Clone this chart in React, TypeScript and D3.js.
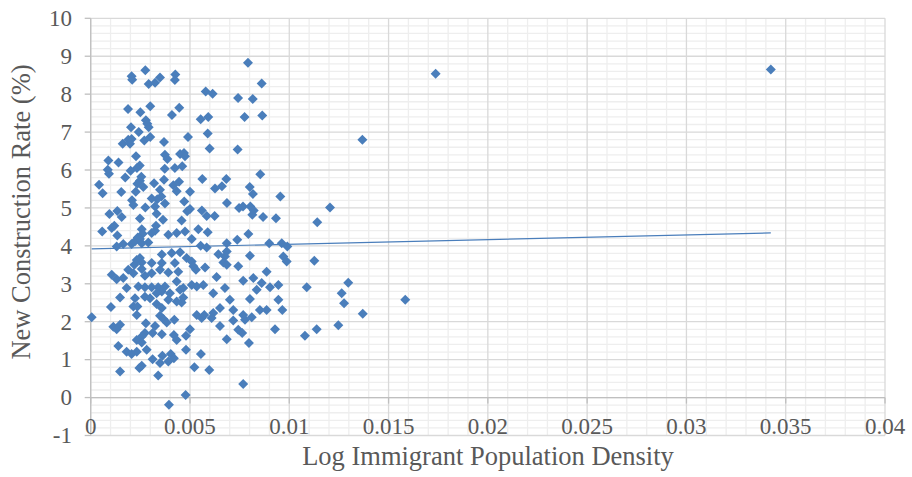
import React from 'react';
import * as d3 from 'd3';

// Log immigrant population density (x) and new construction rate % (y)
const densityX = [
  0.00206, 0.00209, 0.00275, 0.00292, 0.00324, 0.00349, 0.00426, 0.00424, 0.00792, 0.00861,
  0.00579, 0.00614, 0.00742, 0.00816, 0.00188, 0.00250, 0.00300, 0.00446, 0.00409, 0.00278,
  0.00554, 0.00592, 0.00775, 0.00864, 0.00203, 0.00285, 0.00292, 0.00242, 0.00589, 0.00490,
  0.00161, 0.00189, 0.00206, 0.00198, 0.00270, 0.00300, 0.00369, 0.00599, 0.00740, 0.00374,
  0.00386, 0.00228, 0.00450, 0.00470, 0.00475, 0.00089, 0.00140, 0.00086, 0.00092, 0.00247,
  0.00233, 0.00201, 0.00373, 0.00424, 0.00461, 0.00854, 0.00174, 0.00255, 0.00248, 0.00235,
  0.00265, 0.00319, 0.00369, 0.00445, 0.00416, 0.00562, 0.00683, 0.00661, 0.00626, 0.00801,
  0.00817, 0.00042, 0.00060, 0.00154, 0.00227, 0.00349, 0.00433, 0.00500, 0.00356, 0.00307,
  0.00208, 0.00215, 0.00275, 0.00335, 0.00374, 0.00324, 0.00471, 0.00686, 0.00955, 0.00094,
  0.00134, 0.00156, 0.00248, 0.00500, 0.00486, 0.00560, 0.00584, 0.00624, 0.00747, 0.00767,
  0.00804, 0.00821, 0.00814, 0.00868, 0.00933, 0.00332, 0.00364, 0.00458, 0.01141, 0.00058,
  0.00106, 0.00119, 0.00134, 0.00257, 0.00262, 0.00307, 0.00324, 0.00329, 0.00391, 0.00433,
  0.00475, 0.00542, 0.00589, 0.00794, 0.00131, 0.00164, 0.00206, 0.00223, 0.00248, 0.00257,
  0.00290, 0.00237, 0.00509, 0.00554, 0.00584, 0.00685, 0.00738, 0.00899, 0.00962, 0.00990,
  0.00643, 0.00685, 0.00676, 0.00668, 0.00685, 0.00802, 0.00970, 0.00987, 0.01126, 0.00358,
  0.00408, 0.00450, 0.00232, 0.00248, 0.00257, 0.00220, 0.00307, 0.00358, 0.00424, 0.00483,
  0.00509, 0.00517, 0.00530, 0.00576, 0.00106, 0.00131, 0.00164, 0.00189, 0.00215, 0.00257,
  0.00273, 0.00307, 0.00349, 0.00391, 0.00441, 0.00433, 0.00634, 0.00743, 0.00768, 0.00819,
  0.00886, 0.00861, 0.00903, 0.00945, 0.01088, 0.00181, 0.00148, 0.00240, 0.00273, 0.00307,
  0.00340, 0.00374, 0.00358, 0.00332, 0.00399, 0.00391, 0.00450, 0.00466, 0.00509, 0.00534,
  0.00567, 0.00617, 0.00676, 0.00802, 0.00836, 0.00223, 0.00273, 0.00299, 0.00466, 0.00458,
  0.00433, 0.00701, 0.00945, 0.00852, 0.00886, 0.00965, 0.00102, 0.00215, 0.00235, 0.00349,
  0.00358, 0.00534, 0.00617, 0.00651, 0.00718, 0.00768, 0.00811, 0.00005, 0.00114, 0.00131,
  0.00148, 0.00139, 0.00148, 0.00232, 0.00332, 0.00366, 0.00383, 0.00421, 0.00278, 0.00324,
  0.00312, 0.00358, 0.00273, 0.00257, 0.00232, 0.00257, 0.00282, 0.00419, 0.00433, 0.00480,
  0.00500, 0.00480, 0.00181, 0.00206, 0.00232, 0.00312, 0.00361, 0.00403, 0.00419, 0.00391,
  0.00349, 0.00257, 0.00245, 0.00340, 0.00522, 0.00597, 0.00555, 0.00768, 0.00478, 0.00394,
  0.00559, 0.00572, 0.00609, 0.00718, 0.00651, 0.00685, 0.00743, 0.00763, 0.00797, 0.00777,
  0.00928, 0.01079, 0.01138, 0.01205, 0.01368, 0.01737, 0.01297, 0.01264, 0.01276, 0.01370,
  0.01247, 0.01584, 0.03425,
];

const rateY = [
  8.47, 8.38, 8.63, 8.27, 8.30, 8.44, 8.52, 8.37, 8.83, 8.28,
  8.07, 8.01, 7.90, 7.87, 7.61, 7.52, 7.68, 7.64, 7.45, 7.31,
  7.34, 7.40, 7.40, 7.44, 7.13, 7.22, 7.13, 7.00, 6.96, 6.87,
  6.69, 6.80, 6.82, 6.69, 6.78, 6.87, 6.74, 6.57, 6.54, 6.40,
  6.29, 6.36, 6.42, 6.45, 6.36, 6.25, 6.20, 6.01, 5.90, 6.12,
  6.05, 5.98, 6.03, 6.05, 6.10, 5.89, 5.80, 5.82, 5.72, 5.64,
  5.55, 5.65, 5.74, 5.69, 5.60, 5.76, 5.76, 5.57, 5.51, 5.55,
  5.37, 5.61, 5.39, 5.42, 5.43, 5.48, 5.44, 5.43, 5.30, 5.25,
  5.20, 5.08, 5.01, 5.23, 5.12, 5.04, 5.17, 5.13, 5.30, 4.84,
  4.92, 4.76, 4.72, 4.97, 4.91, 4.93, 4.79, 4.79, 5.00, 5.04,
  5.04, 4.93, 4.82, 4.76, 4.73, 4.85, 4.69, 4.67, 4.62, 4.38,
  4.47, 4.53, 4.27, 4.44, 4.32, 4.34, 4.40, 4.53, 4.29, 4.34,
  4.38, 4.44, 4.36, 4.31, 3.98, 4.05, 4.05, 4.12, 4.18, 4.07,
  4.09, 4.22, 4.18, 4.00, 3.96, 4.07, 4.16, 4.07, 4.07, 3.98,
  3.78, 3.85, 3.72, 3.56, 3.50, 3.74, 3.72, 3.59, 3.61, 3.77,
  3.81, 3.83, 3.63, 3.68, 3.56, 3.50, 3.55, 3.55, 3.55, 3.68,
  3.59, 3.46, 3.37, 3.43, 3.24, 3.12, 3.15, 3.37, 3.28, 3.39,
  3.21, 3.28, 3.37, 3.30, 3.32, 3.06, 3.18, 3.46, 3.08, 3.15,
  3.32, 3.02, 2.91, 2.97, 2.91, 2.89, 2.64, 2.93, 2.91, 2.91,
  2.91, 2.93, 2.80, 2.75, 2.75, 2.58, 2.84, 2.89, 2.97, 2.93,
  2.97, 2.75, 2.89, 2.60, 2.84, 2.62, 2.66, 2.62, 2.64, 2.51,
  2.53, 2.58, 2.58, 2.31, 2.31, 2.31, 2.39, 2.40, 2.40, 2.16,
  2.36, 2.18, 2.23, 2.36, 2.31, 2.18, 2.12, 2.12, 1.87, 1.80,
  1.92, 1.36, 0.69, 2.18, 2.47, 2.07, 1.98, 2.05, 1.96, 1.89,
  1.70, 1.67, 1.70, 1.61, 1.52, 1.45, 1.26, 1.65, 1.52, 1.63,
  1.80, 1.26, 1.21, 1.15, 1.21, 1.01, 1.10, 1.15, 1.04, 0.95,
  0.91, 0.84, 0.78, 0.58, 0.80, 0.73, 1.15, 0.36, 0.07, -0.19,
  2.10, 2.18, 2.10, 2.03, 1.89, 1.54, 1.79, 1.70, 1.44, 2.05,
  1.80, 1.63, 1.80, 5.01, 6.80, 8.54, 3.03, 2.75, 2.49, 2.21,
  1.91, 2.58, 8.65,
];

const xTickValues = [0, 0.005, 0.01, 0.015, 0.02, 0.025, 0.03, 0.035, 0.04];
const xTickLabels = ['0', '0.005', '0.01', '0.015', '0.02', '0.025', '0.03', '0.035', '0.04'];
const yTickValues = [-1, 0, 1, 2, 3, 4, 5, 6, 7, 8, 9, 10];
const yTickLabels = ['-1', '0', '1', '2', '3', '4', '5', '6', '7', '8', '9', '10'];

// Linear trendline (intercept, slope)
const trendIntercept = 3.92;
const trendSlope = 12.3;

const xTitle = 'Log Immigrant Population Density';
const yTitle = 'New Construction Rate (%)';

const squareDiamond = {
  draw(ctx: any, size: number) {
    const r = Math.sqrt(size / 2);
    ctx.moveTo(0, -r);
    ctx.lineTo(r, 0);
    ctx.lineTo(0, r);
    ctx.lineTo(-r, 0);
    ctx.closePath();
  },
};

export default function App() {
  const W = 912;
  const H = 477;
  const x = d3.scaleLinear().domain([0, 0.04]).range([90.7, 885]);
  const y = d3.scaleLinear().domain([-1, 10]).range([435.5, 18.3]);

  const minorX = d3.range(0, 41).filter((i) => i % 5 !== 0).map((i) => i * 0.001);
  const minorY = d3.range(-5, 51).filter((i) => i % 5 !== 0).map((i) => i * 0.2);

  const points = densityX.map((d, i) => ({ x: d, y: rateY[i] }));
  const xMin = d3.min(densityX) as number;
  const xMax = d3.max(densityX) as number;
  const trendLine = d3
    .line<number>()
    .x((d) => x(d))
    .y((d) => y(trendIntercept + trendSlope * d));

  const marker = d3.symbol().type(squareDiamond as any).size(50)() as string;

  const [x0, x1] = x.range();
  const [y0, y1] = y.range();
  const textColor = '#595959';
  const font = '"Liberation Serif", "Times New Roman", serif';

  return (
    <div style={{ position: 'absolute', left: 0, top: 0 }}>
      <svg width={W} height={H} viewBox={`0 0 ${W} ${H}`} style={{ display: 'block', background: '#fff' }}>
        {/* minor grid */}
        <g stroke="#eeeeee" strokeWidth={1.3}>
          {minorX.map((v) => (
            <line key={'mx' + v} x1={x(v)} x2={x(v)} y1={y1} y2={y0} />
          ))}
          {minorY.map((v) => (
            <line key={'my' + v} x1={x0} x2={x1} y1={y(v)} y2={y(v)} />
          ))}
        </g>
        {/* major grid */}
        <g stroke="#d9d9d9" strokeWidth={1.3}>
          {xTickValues.map((v) => (
            <line key={'Mx' + v} x1={x(v)} x2={x(v)} y1={y1} y2={y0} />
          ))}
          {yTickValues.map((v) => (
            <line key={'My' + v} x1={x0} x2={x1} y1={y(v)} y2={y(v)} />
          ))}
        </g>
        {/* axes */}
        <g stroke="#bfbfbf" strokeWidth={1.3}>
          <line x1={x0} x2={x0} y1={y1} y2={y0} />
          {yTickValues.map((v) => (
            <line key={'ty' + v} x1={x0 - 6} x2={x0} y1={y(v)} y2={y(v)} />
          ))}
          <line x1={x0} x2={x1} y1={y(0)} y2={y(0)} />
          {xTickValues.map((v) => (
            <line key={'tx' + v} x1={x(v)} x2={x(v)} y1={y(0)} y2={y(0) + 6} />
          ))}
        </g>
        {/* y tick labels */}
        <g fill={textColor} fontFamily={font} fontSize={23} textAnchor="end">
          {yTickValues.map((v, i) => (
            <text key={'ly' + v} x={72} y={y(v)} dy="0.34em">
              {yTickLabels[i]}
            </text>
          ))}
        </g>
        {/* x tick labels */}
        <g fill={textColor} fontFamily={font} fontSize={23} textAnchor="middle">
          {xTickValues.map((v, i) => (
            <text key={'lx' + v} x={x(v)} y={433.5}>
              {xTickLabels[i]}
            </text>
          ))}
        </g>
        {/* points */}
        <g fill="#4a7ebb">
          {points.map((p, i) => (
            <path key={i} d={marker} transform={`translate(${x(p.x)},${y(p.y)})`} />
          ))}
        </g>
        {/* trendline */}
        <path d={trendLine([xMin, xMax]) as string} fill="none" stroke="#4a7ebb" strokeWidth={1.2} />
        {/* titles */}
        <text x={488} y={465} fill={textColor} fontFamily={font} fontSize={26.5} textAnchor="middle">
          {xTitle}
        </text>
        <text
          transform={`translate(30, 212) rotate(-90)`}
          fill={textColor}
          fontFamily={font}
          fontSize={26.5}
          textAnchor="middle"
        >
          {yTitle}
        </text>
      </svg>
    </div>
  );
}
